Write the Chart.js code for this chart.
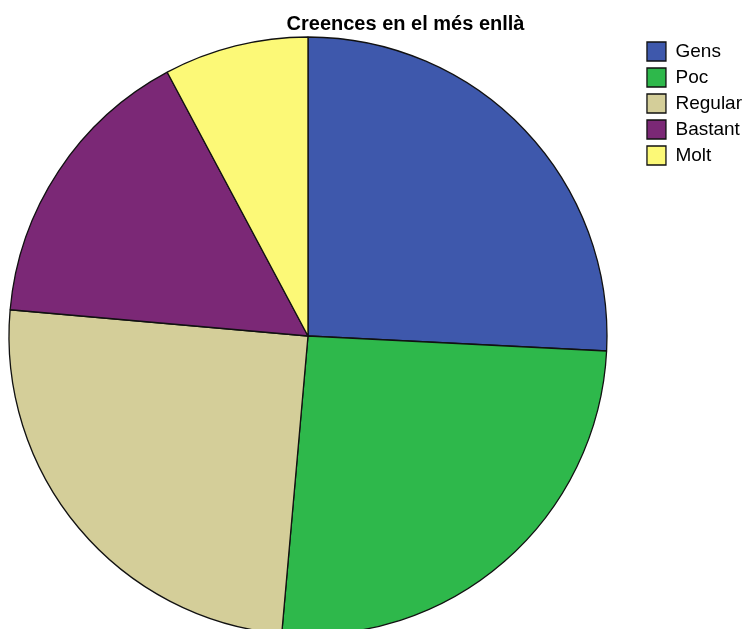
<!DOCTYPE html>
<html>
<head>
<meta charset="utf-8">
<title>Creences en el més enllà</title>
<script src="https://cdn.jsdelivr.net/npm/chart.js@4/dist/chart.umd.min.js"></script>
<style>
  html, body { margin: 0; padding: 0; background: #fff; overflow: hidden; width: 743px; height: 629px; }
  #wrap { position: absolute; left: -24px; top: 0; width: 800px; height: 660px; }
</style>
</head>
<body>
<div id="wrap"><canvas id="pieChart" width="800" height="660"></canvas></div>
<script>
// data (percent of answers)
const chartTitle = "Creences en el més enllà";
const categories = ["Gens", "Poc", "Regular", "Bastant", "Molt"];
const percentages = [25.8, 25.6, 25.0, 15.8, 7.8];
const sliceColors = ["#3e58ac", "#2eb84b", "#d4ce99", "#7b2876", "#fcf977"];

// small plugin that writes the title where the original had it
const titleText = {
  id: "titleText",
  afterDraw(chart) {
    const ctx = chart.ctx;
    ctx.save();
    ctx.font = 'bold 20px "Liberation Sans", Arial, sans-serif';
    ctx.fillStyle = "#000";
    ctx.textAlign = "center";
    ctx.textBaseline = "alphabetic";
    ctx.fillText(chartTitle, 429.5, 30);
    ctx.restore();
  },
};

var pieCanvas = document.getElementById("pieChart").getContext("2d");
var myChart = new Chart(pieCanvas, {
  type: "pie",
  data: {
    labels: categories,
    datasets: [
      {
        data: percentages,
        backgroundColor: sliceColors,
        borderColor: "#111",
        borderWidth: 1.3,
        radius: 299,
      },
    ],
  },
  options: {
    responsive: false,
    devicePixelRatio: 1,
    animation: false,
    layout: {
      padding: { left: 0, right: 24, top: 35, bottom: 23 },
    },
    plugins: {
      legend: {
        position: "right",
        align: "start",
        labels: {
          boxWidth: 19,
          boxHeight: 19,
          padding: 7,
          color: "#000",
          font: { family: '"Liberation Sans", Arial, sans-serif', size: 19 },
        },
      },
      title: { display: false },
      tooltip: { enabled: false },
    },
  },
  plugins: [titleText],
});
</script>
</body>
</html>
